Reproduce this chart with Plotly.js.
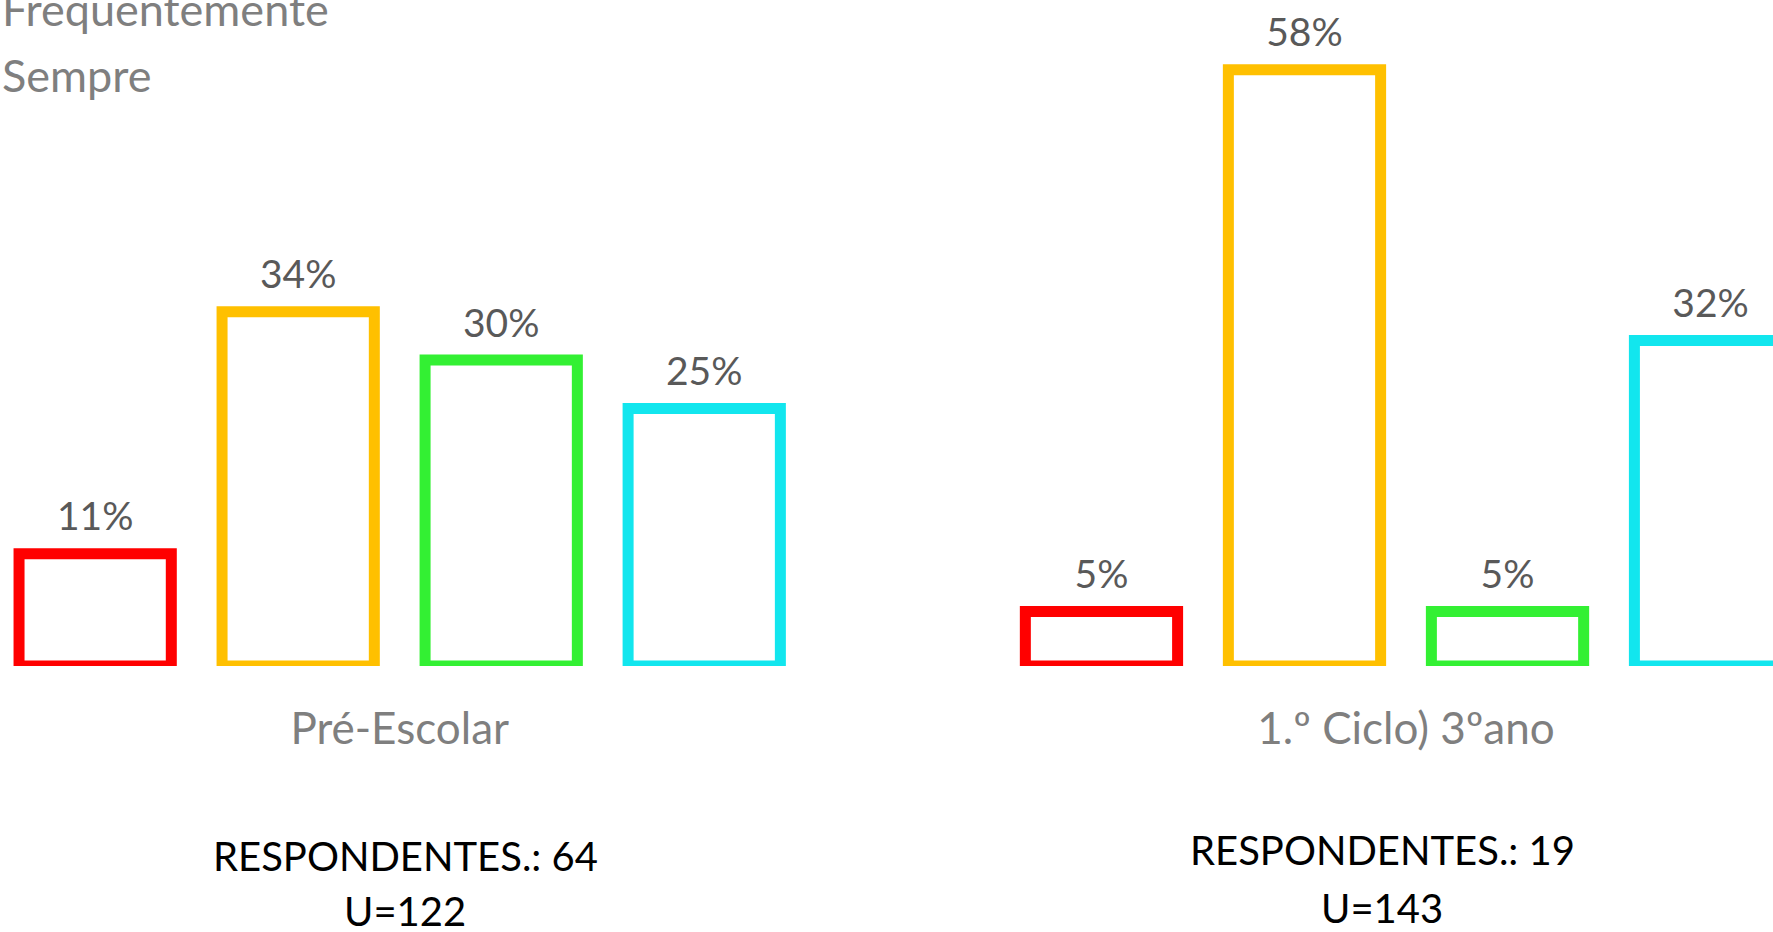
<!DOCTYPE html>
<html>
<head>
<meta charset="utf-8">
<script src="https://cdn.plot.ly/plotly-3.0.1.min.js"></script>
<style>
  html, body { margin: 0; padding: 0; background: #ffffff; }
  #chart { width: 1773px; height: 932px; }
</style>
</head>
<body>
<div id="chart"></div>
<script>
// ---- data (percent of respondents) ----
const categories = ["Pré-Escolar", "1.º Ciclo) 3ºano"];
const seriesNames = ["Nunca", "Às vezes", "Frequentemente", "Sempre"];
const nunca = [10.9, 5.3];
const asVezes = [34.4, 57.9];
const frequentemente = [29.7, 5.3];
const sempre = [25.0, 31.6];
const respondentes = [64, 19];
const uValues = [122, 143];

const seriesValues = [nunca, asVezes, frequentemente, sempre];
const seriesColors = ["#FF0000", "#FFC000", "#33F033", "#12E6EE"];

const FONT = "Lato, 'Open Sans', sans-serif";
const GAP = 0.193;

const barTraces = seriesValues.map((vals, i) => ({
  type: "bar",
  name: seriesNames[i],
  legendgroup: "g" + i,
  x: categories,
  y: vals,
  hoverinfo: "skip",
  marker: { color: "#ffffff", line: { color: seriesColors[i], width: 11 } }
}));

// value labels, grouped with the same gap so they sit above each bar
const labelTraces = seriesValues.map((vals, i) => ({
  type: "scatter",
  mode: "markers+text",
  showlegend: false,
  legendgroup: "g" + i,
  x: categories,
  y: vals,
  texttemplate: "%{y:.0f}%",
  textposition: "top center",
  textfont: { family: FONT, size: 39, color: "#595959" },
  marker: { size: 20, opacity: 0, color: seriesColors[i] },
  cliponaxis: false,
  hoverinfo: "skip"
}));

const lineY = [[-0.3074, -0.3964], [-0.2977, -0.3916]];
const annX = [405 / 1773, 1382 / 1773];
const annotations = [];
categories.forEach((c, i) => {
  const lines = ["RESPONDENTES.: " + respondentes[i], "U=" + uValues[i]];
  lines.forEach((t, j) => annotations.push({
    xref: "paper", yref: "paper",
    x: annX[i], y: lineY[i][j],
    xanchor: "center", yanchor: "middle",
    showarrow: false,
    text: t,
    font: { family: FONT, size: 40, color: "#000000" }
  }));
});

const layout = {
  width: 1773, height: 932,
  margin: { l: 0, r: 0, t: 48, b: 266, autoexpand: false },
  paper_bgcolor: "#ffffff",
  plot_bgcolor: "#ffffff",
  barmode: "group",
  bargap: GAP,
  bargroupgap: 0.25,
  scattermode: "group",
  scattergap: GAP,
  showlegend: true,
  legend: {
    x: -38 / 1773, xanchor: "left",
    y: 1.3338, yanchor: "top",
    orientation: "v",
    traceorder: "grouped",
    tracegroupgap: 4,
    bgcolor: "rgba(0,0,0,0)",
    font: { family: FONT, size: 45, color: "#7F7F7F" }
  },
  xaxis: {
    type: "category",
    range: [-0.3972, 1.3647],
    showgrid: false, zeroline: false, showline: false,
    ticks: "",
    ticklabelstandoff: 33,
    tickfont: { family: FONT, size: 44, color: "#7F7F7F" }
  },
  yaxis: {
    range: [0, 60],
    visible: false,
    showgrid: false, zeroline: false
  },
  annotations: annotations
};

Plotly.newPlot("chart", barTraces.concat(labelTraces), layout, { displayModeBar: false, staticPlot: true });
</script>
</body>
</html>
